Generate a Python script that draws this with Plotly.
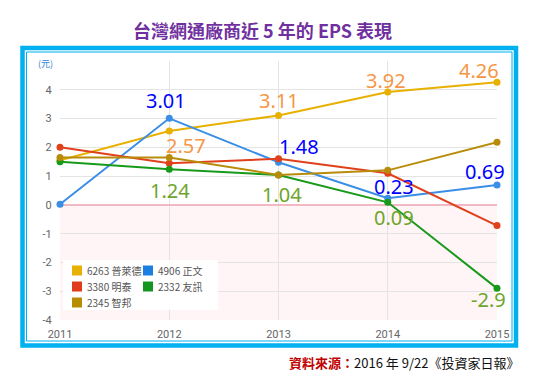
import plotly.graph_objects as go

# ---- data ----
years = [2011, 2012, 2013, 2014, 2015]
names = ["6263 普萊德", "4906 正文", "3380 明泰", "2332 友訊", "2345 智邦"]
eps_6263 = [1.55, 2.57, 3.11, 3.92, 4.26]
eps_4906 = [0.02, 3.01, 1.48, 0.23, 0.69]
eps_3380 = [2.00, 1.45, 1.60, 1.10, -0.72]
eps_2332 = [1.50, 1.24, 1.04, 0.09, -2.90]
eps_2345 = [1.65, 1.65, 1.04, 1.20, 2.18]
y_ticks = [-4, -3, -2, -1, 0, 1, 2, 3, 4, 5]
y_ticktext = ["-4", "-3", "-2", "-1", "0", "1", "2", "3", "4", ""]

series = [eps_6263, eps_4906, eps_3380, eps_2332, eps_2345]
line_colors = ["#e8b000", "#3a8ee6", "#e0401c", "#179a1a", "#b88c0a"]
legend_colors = ["#e8b000", "#1a7fe0", "#e03c1c", "#14961e", "#b88c00"]

# which series get value labels, label colour, and pixel offsets per year (None = no label)
label_cfg = {
    0: ("#f79646", [None, (17, 15), (0, -15), (-2, -12), (-18, -12)]),
    1: ("#0000ff", [None, (-3, -18), (20, -16), (6, -12), (-12, -14)]),
    3: ("#6ea52a", [None, (1, 21), (3, 20), (6, 15), (-9, 11)]),
}

W, H = 538, 377
L, R, T, B = 60, 41, 61, 57
PW, PH = W - L - R, H - T - B


def px(x):
    return (x - L) / PW


def py(y):
    return (H - B - y) / PH


fig = go.Figure()

for s, nm, c in zip(series, names, line_colors):
    fig.add_trace(go.Scatter(
        x=years, y=s, name=nm, mode="lines+markers",
        line=dict(color=c, width=2), marker=dict(color=c, size=7),
        cliponaxis=False, showlegend=False,
    ))

annotations = []
for idx, (col, offs) in label_cfg.items():
    for yr, v, off in zip(years, series[idx], offs):
        if off is None:
            continue
        annotations.append(dict(
            x=yr, y=v, xref="x", yref="y", text=f"{v:g}", showarrow=False,
            xanchor="center", yanchor="middle",
            xshift=off[0], yshift=-off[1],
            font=dict(family="Noto Sans", size=20, color=col),
        ))

# unit label
annotations.append(dict(x=px(45), y=py(64), xref="paper", yref="paper", text="(元)",
                        xanchor="center", yanchor="middle", showarrow=False,
                        font=dict(family="Noto Sans CJK TC", size=9, color="#2a7fd4")))
# title
annotations.append(dict(x=px(262), y=py(30), xref="paper", yref="paper",
                        xanchor="center", yanchor="middle",
                        text="<b>台灣網通廠商近 5 年的 EPS 表現</b>", showarrow=False,
                        font=dict(family="Noto Sans CJK TC", size=18, color="#7030a0")))
# source
annotations.append(dict(x=px(521), y=py(362), xref="paper", yref="paper",
                        xanchor="right", yanchor="middle",
                        text="<span style='color:#c00000'><b>資料來源：</b></span>2016 年 9/22《投資家日報》",
                        showarrow=False, font=dict(family="Noto Sans CJK TC", size=13, color="#111111")))

shapes = []
# pink area below zero
shapes.append(dict(type="rect", xref="paper", yref="y", x0=0, x1=1, y0=-4, y1=0,
                   fillcolor="#fff4f6", line=dict(width=0), layer="below"))
# frame
shapes.append(dict(type="rect", xref="paper", yref="paper", x0=px(22.5), x1=px(516), y0=py(48), y1=py(345.5),
                   line=dict(color="#00b0f0", width=4.5), fillcolor="rgba(0,0,0,0)"))
shapes.append(dict(type="rect", xref="paper", yref="paper", x0=px(26.5), x1=px(512), y0=py(52), y1=py(341),
                   line=dict(color="#00b0f0", width=1), fillcolor="rgba(0,0,0,0)"))

# manual legend (two columns, row-major)
shapes.append(dict(type="rect", xref="paper", yref="paper", x0=px(63), x1=px(218), y0=py(260), y1=py(310),
                   fillcolor="rgba(255,255,255,0.92)", line=dict(width=0)))
for i, (nm, c) in enumerate(zip(names, legend_colors)):
    row, colm = divmod(i, 2)
    sx = 72 + colm * 71
    cy = 270.5 + row * 16
    shapes.append(dict(type="rect", xref="paper", yref="paper", x0=px(sx), x1=px(sx + 10),
                       y0=py(cy + 5), y1=py(cy - 5), fillcolor=c, line=dict(width=0)))
    annotations.append(dict(x=px(sx + 13), y=py(cy), xref="paper", yref="paper",
                            xanchor="left", yanchor="middle",
                            text=nm, showarrow=False,
                            font=dict(family="Noto Sans CJK TC", size=10, color="#555555")))

fig.update_layout(
    width=W, height=H,
    margin=dict(l=L, r=R, t=T, b=B),
    paper_bgcolor="white", plot_bgcolor="white",
    showlegend=False,
    annotations=annotations, shapes=shapes,
    xaxis=dict(range=[2011, 2015], tickvals=years, showgrid=True, gridcolor="#e4e4e4",
               zeroline=False, showline=False, ticks="outside", ticklen=4,
               tickcolor="rgba(0,0,0,0)", tickfont=dict(family="Roboto", size=11, color="#666666")),
    yaxis=dict(range=[-4, 5], tickvals=y_ticks, ticktext=y_ticktext, showgrid=True, gridcolor="#e4e4e4",
               zeroline=True, zerolinecolor="#f2b8c4", zerolinewidth=1.5, showline=False,
               ticks="outside", ticklen=5, tickcolor="rgba(0,0,0,0)",
               tickfont=dict(family="Roboto", size=11, color="#666666")),
)

fig.write_html("out.html", config={"displayModeBar": False},
               post_script="document.body.style.margin='0';")
